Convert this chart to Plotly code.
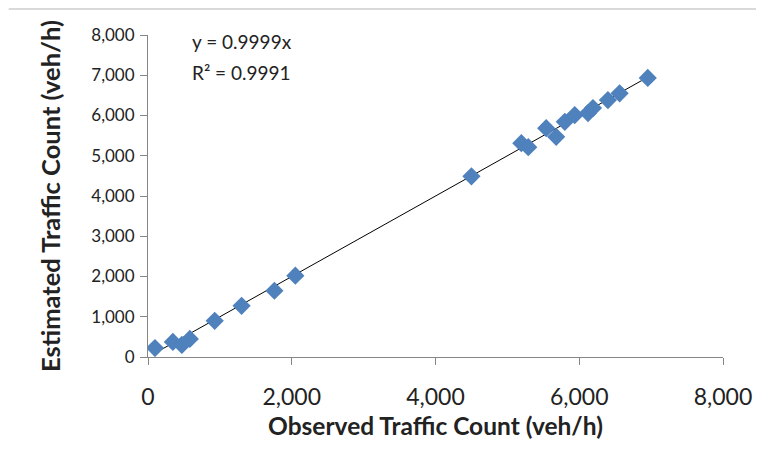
import plotly.graph_objects as go

observed = [97, 346, 471, 582, 928, 1302, 1759, 2050, 4500, 5194, 5291, 5540, 5679, 5799, 5937, 6122, 6191, 6399, 6562, 6953]
estimated = [224, 374, 299, 449, 898, 1272, 1646, 2020, 4490, 5312, 5212, 5686, 5469, 5843, 6010, 6060, 6185, 6384, 6551, 6933]
slope = 0.9999
r2 = 0.9991
tick_vals = [0, 2000, 4000, 6000, 8000]
y_tick_vals = [0, 1000, 2000, 3000, 4000, 5000, 6000, 7000, 8000]

FONT = "Lato, 'Open Sans', sans-serif"
TXT = "#222"

# plot area in figure pixels (page has an 8px body offset)
L, T, PW, PH = 140, 27, 578, 322
W, H = 756, 454

fig = go.Figure()
xmin, xmax = min(observed), max(observed)
fig.add_trace(go.Scatter(x=[xmin, xmax], y=[slope * xmin, slope * xmax], mode="lines",
                         line=dict(color="black", width=1), showlegend=False, hoverinfo="skip"))
fig.add_trace(go.Scatter(x=observed, y=estimated, mode="markers",
                         marker=dict(symbol="diamond", size=14, color="#4F81BD"),
                         showlegend=False))

axis_common = dict(showgrid=False, zeroline=False, showline=True, linecolor="#868686", linewidth=1,
                   ticks="outside", tickcolor="#868686", ticklen=7, tickformat=",")
fig.update_xaxes(range=[0, 8000], tickvals=tick_vals, ticklabelstandoff=12,
                 tickfont=dict(family=FONT, size=23, color=TXT),
                 title=dict(text="<b>Observed Traffic Count (veh/h)</b>",
                            font=dict(family=FONT, size=24.5, color=TXT), standoff=9),
                 **axis_common)
fig.update_yaxes(range=[0, 8000], tickvals=y_tick_vals, ticklabelstandoff=2,
                 tickfont=dict(family=FONT, size=17, color=TXT),
                 title=dict(text="<b>Estimated Traffic Count (veh/h)</b>",
                            font=dict(family=FONT, size=25.5, color=TXT), standoff=23),
                 **axis_common)

fig.add_annotation(xref="paper", yref="paper", x=(182 - L) / PW, y=(T + PH - 34) / PH,
                   text=f"y = {slope}x", showarrow=False, xanchor="left", yanchor="middle",
                   font=dict(family=FONT, size=19, color=TXT))
fig.add_annotation(xref="paper", yref="paper", x=(182 - L) / PW, y=(T + PH - 64) / PH,
                   text=f"R² = {r2}", showarrow=False, xanchor="left", yanchor="middle",
                   font=dict(family=FONT, size=19, color=TXT))

fig.add_shape(type="line", xref="paper", yref="paper", x0=(0 - L) / PW, x1=(W + 20 - L) / PW,
              y0=(T + PH - 1) / PH, y1=(T + PH - 1) / PH, line=dict(color="#d9d9d9", width=2))

fig.update_layout(width=W, height=H, margin=dict(l=L, r=W - L - PW, t=T, b=H - T - PH),
                  plot_bgcolor="white", paper_bgcolor="white")
fig.write_html("out.html")
